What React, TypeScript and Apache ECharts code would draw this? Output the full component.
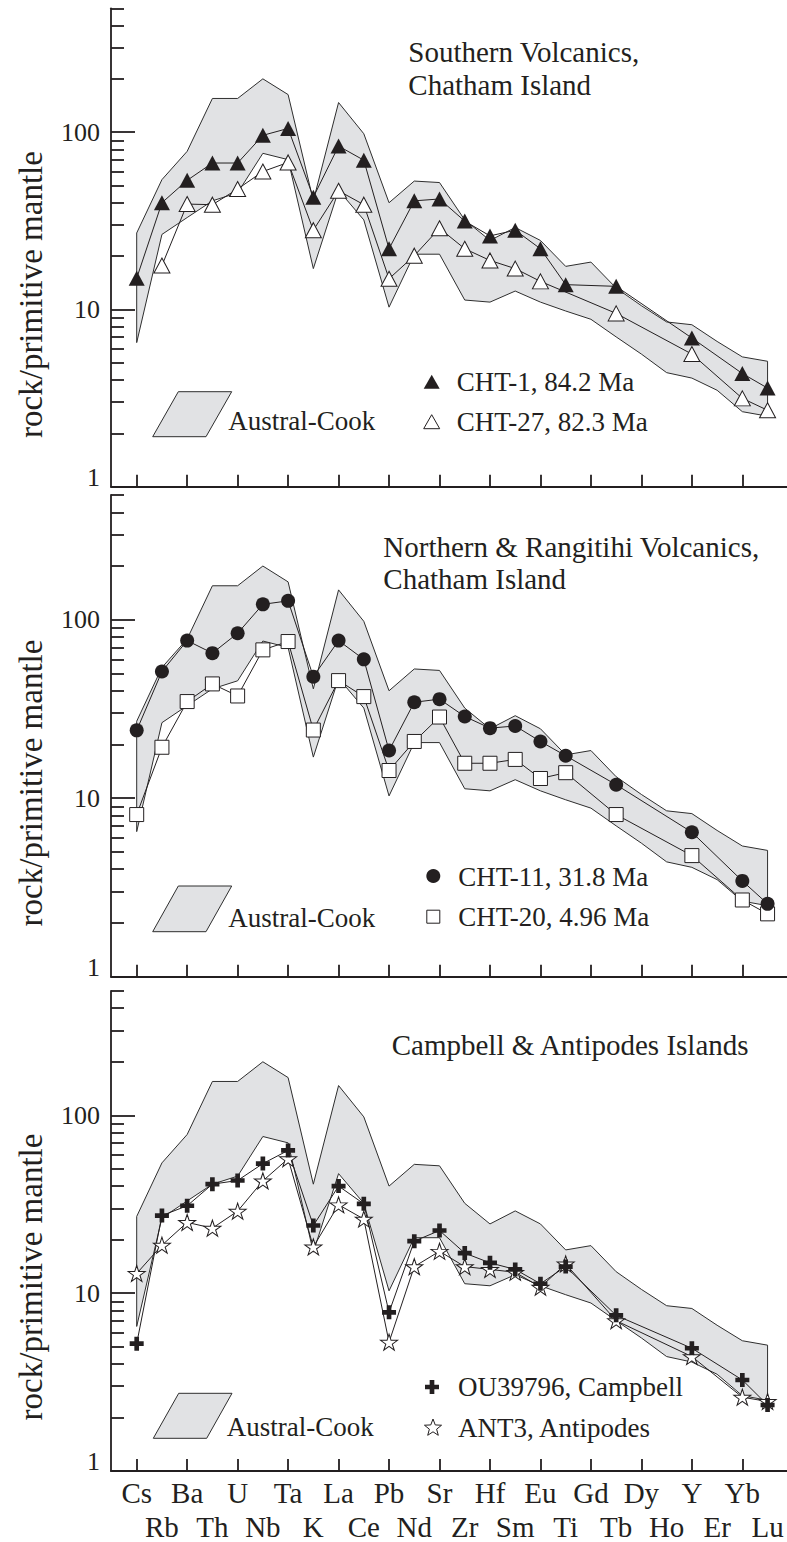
import React, { useEffect, useRef } from 'react';
import * as echarts from 'echarts';

// ---------------- data ----------------
const categories = ['Cs', 'Rb', 'Ba', 'Th', 'U', 'Nb', 'Ta', 'K', 'La', 'Ce', 'Pb', 'Nd', 'Sr', 'Zr', 'Hf', 'Sm', 'Eu', 'Ti', 'Gd', 'Tb', 'Dy', 'Ho', 'Y', 'Er', 'Yb', 'Lu'];
const xTickCategories = ['Cs', 'Ba', 'U', 'Ta', 'La', 'Pb', 'Sr', 'Hf', 'Eu', 'Gd', 'Dy', 'Y', 'Yb'];

// Austral-Cook field (same in every panel)
const australCookUpper = [27, 54, 78, 155, 155, 200, 163, 41, 147, 98, 40, 53, 52, 32, 24.5, 29, 24.5, 17.5, 18.5, 13.2, 10.5, 8.5, 8.2, 6.6, 5.4, 5.1];
const australCookLower = [6.5, 26.5, 33, 41, 45.5, 76, 70, 17, 47, 32, 10.3, 20.5, 20.5, 11.3, 11, 12.7, 11, 9.8, 8.8, 7, 5.6, 4.4, 4.1, 3.5, 2.65, 2.5];

// Southern Volcanics
const cht1 = [15, 40, 53.5, 67, 67, 96, 105, 43, 83.5, 69.5, 22, 41, 42, 31.5, 26, 28, 22, 13.8, null, 13.5, null, null, 6.9, null, 4.35, 3.6];
const cht27 = [null, 17.7, 39.3, 39, 47.8, 60, 67.5, 28, 46.7, 39, 14.9, 20.1, 28.7, 22, 18.9, 17, 14.4, null, null, 9.5, null, null, 5.6, null, 3.15, 2.7];

// Northern & Rangitihi Volcanics
const cht11 = [24, 51.3, 76.4, 65, 84, 122, 127.6, 48, 76.4, 60, 18.5, 34.5, 35.9, 28.7, 24.7, 25.4, 20.8, 17.3, null, 11.9, null, null, 6.45, null, 3.44, 2.56];
const cht20 = [8.1, 19.3, 34.8, 43.7, 37.4, 67.8, 75.5, 24.1, 45.6, 37.1, 14.3, 20.8, 28.5, 15.7, 15.7, 16.5, 12.9, 13.9, null, 8.1, null, null, 4.77, null, 2.69, 2.25];

// Campbell & Antipodes
const ou39796 = [5.2, 27.3, 31, 41, 43, 53.5, 63.5, 24, 40, 31.8, 7.8, 19.6, 22.5, 16.8, 14.8, 13.6, 11.3, 14.1, null, 7.5, null, null, 4.9, null, 3.25, 2.35];
const ant3 = [12.9, 18.6, 25, 23.2, 28.9, 42.8, 57, 18.2, 31.4, 26.1, 5.3, 14.1, 17.2, 14.1, 13.6, 13.1, 10.8, 14.6, null, 7, null, null, 4.4, null, 2.6, 2.46];

const yMajorTicks = [10, 100];
const yMinorTicks = [2, 3, 4, 5, 6, 7, 8, 9, 20, 30, 40, 50, 60, 70, 80, 90, 200, 300, 400, 500];
const yTickLabels = [1, 10, 100];

const panelTitles = ['Southern Volcanics,\nChatham Island', 'Northern & Rangitihi Volcanics,\nChatham Island', 'Campbell & Antipodes Islands'];
const yAxisTitle = 'rock/primitive mantle';
const fieldName = 'Austral-Cook';

// ---------------- style ----------------
const FONT = '"Liberation Serif", "Times New Roman", serif';
const INK = '#231f20';
const BAND_FILL = '#e1e2e4';
const X_MIN = -1.018;
const X_MAX = 25.77;
const GRID_LEFT = 111;
const GRID_WIDTH = 676;
const panelLayout = [
  { top: 8.3, height: 478.4 },
  { top: 495, height: 481.7 },
  { top: 991, height: 480 },
];

const STAR_PATH = 'path://M50,0L61.23,34.55L97.55,34.55L68.17,55.9L79.39,90.45L50,69.1L20.61,90.45L31.83,55.9L2.45,34.55L38.77,34.55Z';
const PLUS_PATH = 'path://M5,0H10V5H15V10H10V15H5V10H0V5H5Z';

function toPairs(values: (number | null)[]) {
  const out: number[][] = [];
  values.forEach((v, i) => {
    if (v != null) out.push([i, v]);
  });
  return out;
}

function lineSeries(name: string, values: (number | null)[], panel: number, symbol: string, size: any, filled: boolean) {
  return {
    type: 'line',
    name,
    xAxisIndex: panel,
    yAxisIndex: panel * 2,
    data: toPairs(values),
    connectNulls: true,
    symbol,
    symbolSize: size,
    showSymbol: true,
    showAllSymbol: true,
    lineStyle: { color: INK, width: 1 },
    itemStyle: filled
      ? { color: INK, borderColor: INK, borderWidth: 0 }
      : { color: '#ffffff', borderColor: INK, borderWidth: 1 },
    emphasis: { disabled: true },
    silent: true,
    z: 3,
  };
}

function bandSeries(panel: number) {
  const n = categories.length;
  return {
    type: 'custom',
    name: fieldName,
    xAxisIndex: panel,
    yAxisIndex: panel * 2,
    silent: true,
    z: 1,
    data: categories.map((_, i) => [i, australCookLower[i], australCookUpper[i]]),
    encode: { x: 0, y: [1, 2] },
    renderItem: (params: any, api: any) => {
      if (params.dataIndex !== 0) return null;
      const pts: number[][] = [];
      for (let i = 0; i < n; i++) pts.push(api.coord([i, australCookUpper[i]]));
      for (let i = n - 1; i >= 0; i--) pts.push(api.coord([i, australCookLower[i]]));
      return {
        type: 'polygon',
        shape: { points: pts },
        style: { fill: BAND_FILL, stroke: '#2e2e2e', lineWidth: 1 },
      };
    },
  };
}

function starPoints(cx: number, cy: number, R: number, r: number) {
  const pts: number[][] = [];
  for (let k = 0; k < 10; k++) {
    const a = -Math.PI / 2 + (k * Math.PI) / 5;
    const rad = k % 2 === 0 ? R : r;
    pts.push([cx + rad * Math.cos(a), cy + rad * Math.sin(a)]);
  }
  return pts;
}

function plusPoints(cx: number, cy: number, s: number) {
  const h = s / 2;
  const t = s / 6;
  return [
    [cx - t, cy - h], [cx + t, cy - h], [cx + t, cy - t], [cx + h, cy - t], [cx + h, cy + t], [cx + t, cy + t],
    [cx + t, cy + h], [cx - t, cy + h], [cx - t, cy + t], [cx - h, cy + t], [cx - h, cy - t], [cx - t, cy - t],
  ];
}

function textEl(text: string, x: number, y: number, size: number, extra: any = {}) {
  return {
    type: 'text',
    x,
    y,
    silent: true,
    style: {
      text,
      font: `${size}px ${FONT}`,
      fill: INK,
      align: 'left',
      verticalAlign: 'middle',
      textAlign: 'left',
      textVerticalAlign: 'middle',
      ...extra,
    },
  };
}

function buildOption() {
  const axisLineStyle = { color: INK, width: 1.8 };
  const xTickValues = xTickCategories.map((c) => categories.indexOf(c));
  const evenIdx = categories.map((_, k) => k).filter((k) => k % 2 === 0);
  const oddIdx = categories.map((_, k) => k).filter((k) => k % 2 === 1);

  const grid = panelLayout.map((p) => ({
    left: GRID_LEFT,
    width: GRID_WIDTH,
    top: p.top,
    height: p.height,
    containLabel: false,
    outerBoundsMode: 'none',
  }));

  const labelBase = {
    show: true,
    formatter: (v: number) => categories[Math.round(v)],
    fontFamily: FONT,
    fontSize: 29,
    lineHeight: 28,
    color: INK,
    hideOverlap: false,
    showMinLabel: true,
    showMaxLabel: true,
  };

  const xAxis: any[] = panelLayout.map((_, i) => ({
    type: 'value',
    gridIndex: i,
    min: X_MIN,
    max: X_MAX,
    position: 'bottom',
    axisLine: { show: true, onZero: false, lineStyle: axisLineStyle },
    axisTick: { show: true, inside: true, length: 12, customValues: xTickValues, lineStyle: axisLineStyle },
    axisLabel: i === 2 ? { ...labelBase, customValues: evenIdx, margin: 8 } : { show: false },
    splitLine: { show: false },
  }));
  // second label row of the bottom panel (Rb, Th, Nb, ...)
  xAxis.push({
    type: 'value',
    gridIndex: 2,
    min: X_MIN,
    max: X_MAX,
    position: 'bottom',
    offset: 0,
    axisLine: { show: false, onZero: false },
    axisTick: { show: false },
    axisLabel: { ...labelBase, customValues: oddIdx, margin: 42 },
    splitLine: { show: false },
  });

  const yAxis: any[] = [];
  panelLayout.forEach((_, i) => {
    yAxis.push({
      type: 'log',
      logBase: 10,
      gridIndex: i,
      min: 1,
      max: 500,
      position: 'left',
      axisLine: { show: true, onZero: false, lineStyle: axisLineStyle },
      axisTick: { show: true, inside: true, length: 24, customValues: yMajorTicks, lineStyle: axisLineStyle },
      axisLabel: {
        show: true,
        customValues: yTickLabels,
        margin: 11,
        fontFamily: FONT,
        fontSize: 26,
        color: INK,
        showMinLabel: true,
        showMaxLabel: true,
        formatter: (v: number) => {
          const r = Math.round(v);
          return r === 1 ? '{lo|1}' : String(r);
        },
        rich: { lo: { fontFamily: FONT, fontSize: 26, color: INK, padding: [0, 0, 19, 0] } },
      },
      splitLine: { show: false },
    });
    yAxis.push({
      type: 'log',
      logBase: 10,
      gridIndex: i,
      min: 1,
      max: 500,
      position: 'left',
      axisLine: { show: false, onZero: false },
      axisTick: { show: true, inside: true, length: 13, customValues: yMinorTicks, lineStyle: axisLineStyle },
      axisLabel: { show: false },
      splitLine: { show: false },
    });
  });

  const series: any[] = [
    bandSeries(0),
    lineSeries('CHT-27, 82.3 Ma', cht27, 0, 'triangle', [16, 15], false),
    lineSeries('CHT-1, 84.2 Ma', cht1, 0, 'triangle', [16, 15], true),
    bandSeries(1),
    lineSeries('CHT-20, 4.96 Ma', cht20, 1, 'rect', 14, false),
    lineSeries('CHT-11, 31.8 Ma', cht11, 1, 'circle', 14, true),
    bandSeries(2),
    lineSeries('ANT3, Antipodes', ant3, 2, STAR_PATH, [17, 16], false),
    lineSeries('OU39796, Campbell', ou39796, 2, PLUS_PATH, 14, true),
  ];

  const filled = { fill: INK, stroke: INK, lineWidth: 0 };
  const open = { fill: '#ffffff', stroke: INK, lineWidth: 1 };
  const bandStyle = { fill: BAND_FILL, stroke: '#2e2e2e', lineWidth: 1 };

  const graphic: any[] = [
    // y titles
    { ...textEl(yAxisTitle, 31, 294.5, 33, { align: 'center', textAlign: 'center' }), rotation: Math.PI / 2 },
    { ...textEl(yAxisTitle, 31, 783, 33, { align: 'center', textAlign: 'center' }), rotation: Math.PI / 2 },
    { ...textEl(yAxisTitle, 31, 1277, 33, { align: 'center', textAlign: 'center' }), rotation: Math.PI / 2 },
    // panel titles
    textEl(panelTitles[0], 408.3, 35.5, 29, { verticalAlign: 'top', textVerticalAlign: 'top', lineHeight: 33 }),
    textEl(panelTitles[1], 383.3, 530.7, 29, { verticalAlign: 'top', textVerticalAlign: 'top', lineHeight: 32 }),
    textEl(panelTitles[2], 391.7, 1045, 29),
    // Austral-Cook keys
    { type: 'polygon', silent: true, shape: { points: [[152.7, 436.7], [178.3, 391.7], [231.7, 391.7], [206, 436.7]] }, style: bandStyle },
    textEl(fieldName, 228.3, 420.7, 27),
    { type: 'polygon', silent: true, shape: { points: [[152.7, 931.7], [178.3, 886], [231.7, 886], [206, 931.7]] }, style: bandStyle },
    textEl(fieldName, 228.3, 918.3, 27),
    { type: 'polygon', silent: true, shape: { points: [[153.3, 1438.3], [178.7, 1393.3], [232, 1393.3], [206.7, 1438.3]] }, style: bandStyle },
    textEl(fieldName, 226.7, 1427, 27),
    // panel 1 sample keys
    { type: 'polygon', silent: true, shape: { points: [[423.7, 388.7], [431.7, 374.7], [439.7, 388.7]] }, style: filled },
    textEl('CHT-1, 84.2 Ma', 456.7, 381.5, 27),
    { type: 'polygon', silent: true, shape: { points: [[423.7, 428.7], [431.7, 414.7], [439.7, 428.7]] }, style: open },
    textEl('CHT-27, 82.3 Ma', 456.7, 422, 27),
    // panel 2 sample keys
    { type: 'circle', silent: true, shape: { cx: 433.3, cy: 876, r: 7 }, style: filled },
    textEl('CHT-11, 31.8 Ma', 458.3, 876.7, 27),
    { type: 'rect', silent: true, shape: { x: 426.8, y: 910.2, width: 13, height: 13 }, style: open },
    textEl('CHT-20, 4.96 Ma', 458.3, 917.3, 27),
    // panel 3 sample keys
    { type: 'polygon', silent: true, shape: { points: plusPoints(432, 1387, 14) }, style: filled },
    textEl('OU39796, Campbell', 458, 1387, 27),
    { type: 'polygon', silent: true, shape: { points: starPoints(433, 1428, 9, 3.8) }, style: open },
    textEl('ANT3, Antipodes', 458, 1428.3, 27),
  ];

  return {
    animation: false,
    backgroundColor: '#ffffff',
    grid,
    xAxis,
    yAxis,
    series,
    graphic,
  };
}

export default function App() {
  const ref = useRef<HTMLDivElement>(null);
  useEffect(() => {
    if (!ref.current) return;
    const chart = echarts.init(ref.current, null, { renderer: 'svg' });
    chart.setOption(buildOption() as any);
    return () => {
      chart.dispose();
    };
  }, []);
  return (
    <div
      ref={ref}
      style={{ position: 'absolute', left: 0, top: 0, width: 787, height: 1542, background: '#ffffff' }}
    />
  );
}
